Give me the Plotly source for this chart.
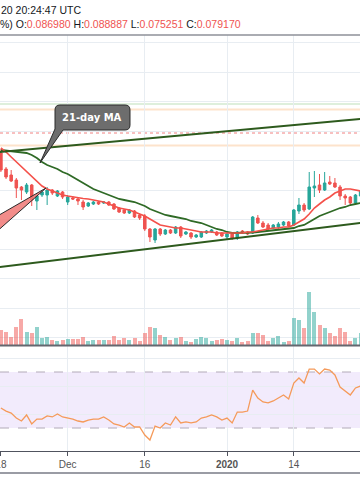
import plotly.graph_objects as go
import pandas as pd

W, H = 360, 504

# ---------------- data ----------------
dates = pd.date_range("2019-11-18", periods=71, freq="D")

open_ = [0.0937, 0.0921, 0.0915, 0.0910, 0.0903, 0.0898, 0.0905, 0.0889, 0.0895, 0.0895,
         0.0900, 0.0894, 0.0898, 0.0888, 0.0892, 0.0891, 0.0888, 0.0884, 0.0886, 0.0888,
         0.0887, 0.0888, 0.0886, 0.0882, 0.0880, 0.0877, 0.0879, 0.0875, 0.0874, 0.0861,
         0.0850, 0.0861, 0.0856, 0.0860, 0.0857, 0.0863, 0.0856, 0.0857, 0.0853, 0.0853,
         0.0857, 0.0858, 0.0858, 0.0857, 0.0853, 0.0856, 0.0852, 0.0859, 0.0858, 0.0857,
         0.0872, 0.0867, 0.0865, 0.0862, 0.0863, 0.0865, 0.0868, 0.0865, 0.0879, 0.0885,
         0.0881, 0.0902, 0.0905, 0.0900, 0.0908, 0.0907, 0.0903, 0.0894, 0.0893, 0.0887, 0.0894]
high = [0.0941, 0.0923, 0.0920, 0.0912, 0.0904, 0.0907, 0.0906, 0.0897, 0.0899, 0.0903,
        0.0901, 0.0900, 0.0899, 0.0895, 0.0894, 0.0893, 0.0890, 0.0888, 0.0889, 0.0889,
        0.0889, 0.0889, 0.0887, 0.0883, 0.0881, 0.0881, 0.0880, 0.0876, 0.0876, 0.0862,
        0.0862, 0.0862, 0.0861, 0.0861, 0.0864, 0.0864, 0.0859, 0.0858, 0.0856, 0.0859,
        0.0860, 0.0861, 0.0859, 0.0858, 0.0857, 0.0857, 0.0859, 0.0860, 0.0859, 0.0874,
        0.0875, 0.0869, 0.0867, 0.0866, 0.0868, 0.0869, 0.0869, 0.0881, 0.0892, 0.0887,
        0.0918, 0.0919, 0.0916, 0.0918, 0.0914, 0.0912, 0.0905, 0.0896, 0.0894, 0.0896, 0.0900]
low = [0.0918, 0.0911, 0.0908, 0.0892, 0.0890, 0.0896, 0.0884, 0.0880, 0.0893, 0.0885,
       0.0895, 0.0893, 0.0891, 0.0885, 0.0890, 0.0885, 0.0880, 0.0883, 0.0885, 0.0885,
       0.0886, 0.0884, 0.0880, 0.0877, 0.0876, 0.0876, 0.0872, 0.0870, 0.0859, 0.0848,
       0.0847, 0.0854, 0.0855, 0.0856, 0.0856, 0.0852, 0.0855, 0.0851, 0.0852, 0.0852,
       0.0856, 0.0857, 0.0854, 0.0853, 0.0851, 0.0850, 0.0850, 0.0856, 0.0855, 0.0856,
       0.0866, 0.0862, 0.0860, 0.0861, 0.0861, 0.0864, 0.0863, 0.0864, 0.0876, 0.0878,
       0.0880, 0.0893, 0.0897, 0.0899, 0.0905, 0.0902, 0.0890, 0.0885, 0.0884, 0.0886, 0.0893]
close = [0.0920, 0.0913, 0.0909, 0.0902, 0.0900, 0.0905, 0.0890, 0.0894, 0.0898, 0.0900,
         0.0897, 0.0899, 0.0893, 0.0893, 0.0891, 0.0889, 0.0883, 0.0887, 0.0888, 0.0886,
         0.0888, 0.0885, 0.0881, 0.0878, 0.0877, 0.0880, 0.0873, 0.0872, 0.0861, 0.0853,
         0.0861, 0.0856, 0.0860, 0.0857, 0.0863, 0.0854, 0.0858, 0.0853, 0.0855, 0.0858,
         0.0859, 0.0860, 0.0855, 0.0854, 0.0856, 0.0852, 0.0858, 0.0857, 0.0856, 0.0873,
         0.0867, 0.0863, 0.0861, 0.0865, 0.0866, 0.0868, 0.0864, 0.0880, 0.0885, 0.0880,
         0.0903, 0.0904, 0.0900, 0.0907, 0.0906, 0.0903, 0.0894, 0.0892, 0.0887, 0.0895, 0.0899]
volume = [15, 12.7, 8.3, 18.3, 25.7, 13.3, 11.7, 18.3, 6.7, 8.3,
          5, 4.3, 5, 6, 6, 6, 8.3, 4.3, 5, 5,
          5, 5, 9, 5, 6.7, 5, 6.7, 4.3, 11.7, 18.3,
          16.7, 10, 7.7, 5, 6.7, 7.7, 4.3, 3.3, 5.7, 7.7,
          6.7, 4.3, 5, 5.7, 5, 4.3, 6.7, 3.3, 4.3, 11.7,
          11.7, 10, 4.3, 6.7, 9, 3.3, 4.3, 26.7, 25, 17.3,
          52.7, 32.7, 20, 16.7, 12.3, 9, 17.3, 13.3, 4.3, 6.7, 12.3]
ma9 = [0.0942, 0.0938, 0.0933, 0.0928, 0.0923, 0.0918, 0.0914, 0.0909, 0.0904, 0.0901,
       0.0899, 0.0897, 0.0895, 0.0894, 0.0893, 0.0892, 0.08915, 0.0891, 0.0890, 0.0889,
       0.0888, 0.0886, 0.0884, 0.0882, 0.0881, 0.0880, 0.0878, 0.0876, 0.0874, 0.0871,
       0.0868, 0.0865, 0.0864, 0.0863, 0.0862, 0.0862, 0.0861, 0.0860, 0.0859, 0.0858,
       0.0858, 0.0858, 0.0857, 0.0857, 0.0857, 0.0857, 0.0857, 0.0857, 0.0858, 0.0858,
       0.0859, 0.0860, 0.0861, 0.0862, 0.0862, 0.0863, 0.0863, 0.0865, 0.0868, 0.0871,
       0.0876, 0.0882, 0.0886, 0.0890, 0.0893, 0.0897, 0.0899, 0.0901, 0.0901, 0.0900, 0.0899]
ma21 = [0.0940, 0.09395, 0.0939, 0.09385, 0.0938, 0.0937, 0.0935, 0.0932, 0.0928, 0.0925,
        0.0923, 0.0921, 0.0918, 0.0916, 0.0913, 0.0910, 0.0907, 0.0904, 0.0901, 0.0899,
        0.0897, 0.0895, 0.0893, 0.0891, 0.0890, 0.0889, 0.0888, 0.0886, 0.0884, 0.0881,
        0.0879, 0.0877, 0.0875, 0.0874, 0.0873, 0.0872, 0.0871, 0.0869, 0.0868, 0.0867,
        0.0865, 0.0863, 0.0861, 0.0860, 0.0858, 0.0857, 0.0857, 0.0857, 0.0857, 0.08575,
        0.0858, 0.08585, 0.0859, 0.0860, 0.08605, 0.0861, 0.08615, 0.0862, 0.0864, 0.0865,
        0.0868, 0.0871, 0.0874, 0.0876, 0.0878, 0.0880, 0.0882, 0.0883, 0.0885, 0.0886, 0.0887]
rsi = [44.3, 42.1, 40.7, 37.1, 35.0, 39.3, 32.9, 36.4, 36.4, 38.6,
       37.9, 40.0, 37.9, 37.1, 36.4, 35.0, 34.3, 35.7, 36.4, 36.4,
       37.9, 35.7, 32.9, 32.1, 30.7, 33.6, 30.7, 30.7, 25.0, 21.4,
       31.4, 30.0, 33.6, 32.1, 37.9, 33.6, 34.3, 33.6, 34.3, 37.1,
       37.9, 39.3, 37.9, 35.7, 37.1, 33.6, 41.4, 41.4, 42.1, 57.1,
       51.4, 48.6, 47.9, 49.3, 51.4, 53.6, 50.7, 62.1, 65.7, 62.1,
       72.1, 72.1, 68.6, 72.1, 71.4, 67.9, 59.3, 56.4, 53.6, 58.6, 60.0]

trend_dates = ["2019-11-17", "2020-01-28"]
trend_upper = [0.09376, 0.09715]
trend_lower = [0.08225, 0.08677]
levels = {"green": 0.0986, "orange1": 0.09805, "reddot": 0.0957, "orange2": 0.09445}

tick_dates = ["2019-11-18", "2019-12-01", "2019-12-16", "2020-01-01", "2020-01-14"]
tick_text = ["18", "Dec", "16", "<b>2020</b>", "14"]

# ---------------- styling helpers ----------------
UP, DN = "#26a69a", "#ef5350"
GRID = "#e8edf2"


def py(y):
    return 1 - y / H


def pth(spec):
    out = []
    for cmd, *nums in spec:
        pts = [f"{nums[i] / W:.5f},{py(nums[i + 1]):.5f}" for i in range(0, len(nums), 2)]
        out.append(cmd + " " + " ".join(pts))
    return " ".join(out) + " Z"


vol_colors = ["rgba(38,166,154,0.5)" if c >= o else "rgba(239,83,80,0.5)" for o, c in zip(open_, close)]

fig = go.Figure()
fig.add_trace(go.Bar(x=dates, y=volume, marker=dict(color=vol_colors, line=dict(width=0)),
                     width=0.78 * 86400000, xaxis="x", yaxis="y", showlegend=False))
fig.add_trace(go.Candlestick(x=dates, open=open_, high=high, low=low, close=close,
                             increasing=dict(line=dict(color=UP, width=1), fillcolor=UP),
                             decreasing=dict(line=dict(color=DN, width=1), fillcolor=DN),
                             xaxis="x", yaxis="y2", showlegend=False))
fig.add_trace(go.Scatter(x=dates, y=ma21, mode="lines", line=dict(color="#2f6a26", width=1.8),
                         xaxis="x", yaxis="y2", showlegend=False))
fig.add_trace(go.Scatter(x=dates, y=ma9, mode="lines", line=dict(color="#f4514a", width=1.6),
                         xaxis="x", yaxis="y2", showlegend=False))
fig.add_trace(go.Scatter(x=dates, y=rsi, mode="lines", line=dict(color="#f59a5a", width=1.3),
                         xaxis="x", yaxis="y3", showlegend=False))

shapes = []
for key, col, w, dash in [("green", "#d3ead0", 1.5, "solid"), ("orange1", "#fde3cc", 2, "solid"),
                          ("reddot", "#f08080", 1, "dot"), ("orange2", "#fde3cc", 2, "solid")]:
    shapes.append(dict(type="line", xref="paper", yref="y2", x0=0, x1=1, y0=levels[key], y1=levels[key],
                       line=dict(color=col, width=w, dash=dash), layer="below"))
for vals in (trend_upper, trend_lower):
    shapes.append(dict(type="line", xref="x", yref="y2", x0=trend_dates[0], x1=trend_dates[1],
                       y0=vals[0], y1=vals[1], line=dict(color="#2d5a1d", width=2), layer="above"))
shapes.append(dict(type="rect", xref="paper", yref="y3", x0=0, x1=1, y0=30, y1=70,
                   fillcolor="rgba(149,90,230,0.12)", line=dict(width=0), layer="below"))
for lv in (30, 70):
    shapes.append(dict(type="line", xref="paper", yref="y3", x0=0, x1=1, y0=lv, y1=lv,
                       line=dict(color="#b2aab8", width=1, dash="dash"), layer="below"))
shapes.append(dict(type="line", xref="paper", yref="paper", x0=0, x1=1, y0=py(35), y1=py(35),
                   line=dict(color="#8e9099", width=1.5)))
shapes.append(dict(type="line", xref="paper", yref="paper", x0=0, x1=1, y0=py(345.5), y1=py(345.5),
                   line=dict(color="#64676f", width=2)))
shapes.append(dict(type="line", xref="paper", yref="paper", x0=0, x1=1, y0=py(473), y1=py(473),
                   line=dict(color="#9a9ca4", width=2)))
shapes.append(dict(type="path", xref="paper", yref="paper",
                   path=pth([("M", -6, 218), ("L", 46, 188), ("L", -6, 234)]),
                   fillcolor="rgba(240,120,118,0.85)", line=dict(color="#2b2b2b", width=1)))
shapes.append(dict(type="path", xref="paper", yref="paper",
                   path=pth([("M", 60, 105), ("L", 125, 105), ("Q", 130, 105, 130, 110), ("L", 130, 125),
                             ("Q", 130, 130, 125, 130), ("L", 63, 130), ("L", 40, 163), ("L", 55, 129),
                             ("L", 55, 110), ("Q", 55, 105, 60, 105)]),
                   fillcolor="#6d6d6d", line=dict(color="#2b2b2b", width=1)))

R = "#ef5350"
annotations = [
    dict(xref="paper", yref="paper", x=-1.5 / W, y=py(10), xanchor="left", yanchor="middle",
         text="20 20:24:47 UTC", showarrow=False, font=dict(family="Liberation Sans", size=10.5, color="#131722")),
    dict(xref="paper", yref="paper", x=-2.5 / W, y=py(24), xanchor="left", yanchor="middle",
         text=(f"%) O:<span style='color:{R}'>0.086980</span> H:<span style='color:{R}'>0.088887</span> "
               f"L:<span style='color:{R}'>0.075251</span> C:<span style='color:{R}'>0.079170</span>"),
         showarrow=False, font=dict(family="Liberation Sans", size=10.5, color="#131722")),
    dict(xref="paper", yref="paper", x=92.5 / W, y=py(117.5), xanchor="center", yanchor="middle",
         text="<b>21-day MA</b>", showarrow=False, font=dict(family="DejaVu Sans", size=10, color="white")),
]

fig.update_layout(
    width=W, height=H, autosize=False,
    margin=dict(l=0, r=0, t=0, b=0, pad=0),
    paper_bgcolor="white", plot_bgcolor="white",
    showlegend=False, bargap=0, hovermode=False,
    xaxis=dict(domain=[0, 1], anchor="y3", type="date", automargin=False,
               range=["2019-11-17 19:48", "2020-01-26 21:07"],
               tickvals=tick_dates, ticktext=tick_text, tickangle=0, ticklabeloverflow="allow",
               showgrid=True, gridcolor=GRID, gridwidth=1,
               ticks="outside", ticklen=4, tickcolor="#50535e",
               showline=True, linecolor="#50535e", linewidth=1,
               tickfont=dict(family="Liberation Sans", size=10, color="#555"),
               rangeslider=dict(visible=False), zeroline=False),
    yaxis=dict(domain=[py(345), py(35)], range=[0, 310], visible=False, showgrid=False,
               fixedrange=True, automargin=False),
    yaxis2=dict(domain=[py(345), py(35)], overlaying="y", side="right", range=[0.0745, 0.1055],
                tick0=0.0900, dtick=0.00295, showgrid=True, gridcolor=GRID, showticklabels=False,
                ticks="", zeroline=False, showline=False, automargin=False),
    yaxis3=dict(domain=[py(451), py(346)], range=[13.57, 88.57], tickvals=[40, 60, 80],
                showgrid=True, gridcolor=GRID, showticklabels=False, ticks="", zeroline=False,
                automargin=False),
    shapes=shapes, annotations=annotations,
)

fig.write_html("out.html", config={"displayModeBar": False, "staticPlot": True},
               post_script="document.body.style.margin='0';document.body.style.overflow='hidden';")
